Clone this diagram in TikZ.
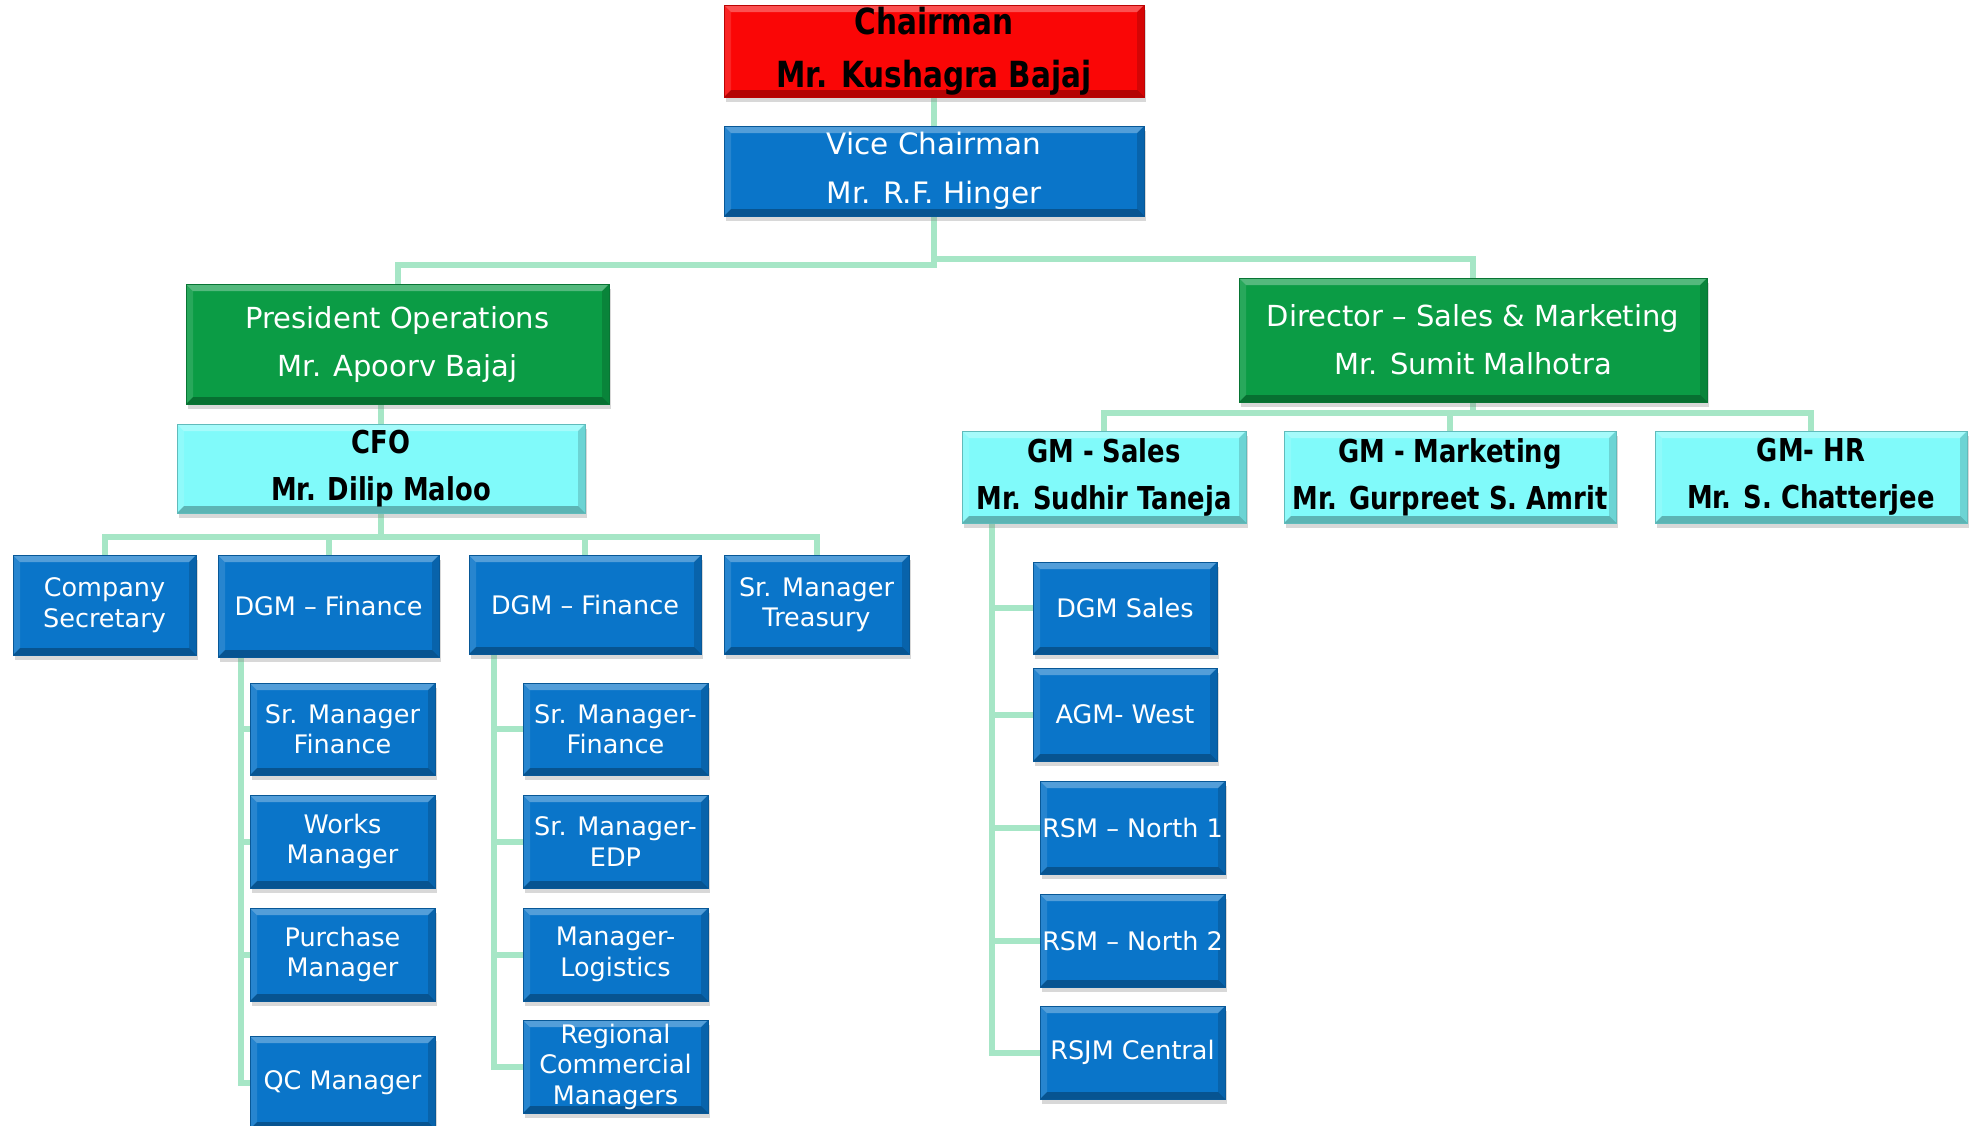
\documentclass[tikz,border=0pt]{standalone}
\usepackage{fontspec}
\setmainfont{DejaVu Sans}
\newfontfamily\bfnt[FakeStretch=0.82]{DejaVu Sans}
\usetikzlibrary{shadows}
\definecolor{cred}{HTML}{FA0606}
\definecolor{cblue}{HTML}{0A75C9}
\definecolor{cgreen}{HTML}{0B9C45}
\definecolor{ccyan}{HTML}{80FAFA}
\definecolor{cline}{HTML}{A6E6C6}
\pgfdeclarelayer{bg}
\pgfsetlayers{bg,main}
\tikzset{
  bevel/.style={path picture={
    \path (path picture bounding box.south west) coordinate (bsw)
          (path picture bounding box.north east) coordinate (bne);
    \fill[white,opacity=.30] (bsw |- bne) -- (bne) -- ([shift={(-7pt,-7pt)}]bne) -- ([shift={(7pt,-7pt)}]bsw |- bne) -- cycle;
    \fill[white,opacity=.12] (bsw |- bne) -- ([shift={(7pt,-7pt)}]bsw |- bne) -- ([shift={(7pt,7pt)}]bsw) -- (bsw) -- cycle;
    \fill[black,opacity=.15] (bne) -- (bne |- bsw) -- ([shift={(-7pt,7pt)}]bne |- bsw) -- ([shift={(-7pt,-7pt)}]bne) -- cycle;
    \fill[black,opacity=.28] (bsw) -- ([shift={(7pt,7pt)}]bsw) -- ([shift={(-7pt,7pt)}]bne |- bsw) -- (bne |- bsw) -- cycle;
  }},
  box/.style={rectangle, inner sep=0pt, align=center, fill=#1, draw=#1!75!black, line width=1pt,
    bevel, drop shadow={shadow xshift=2pt, shadow yshift=-5pt, opacity=.3}},
  redbox/.style={box=cred, text=black, font={\bfnt\bfseries\fontsize{36}{53}\selectfont}},
  bigblue/.style={box=cblue, text=white, font={\fontsize{29.5}{49}\selectfont}},
  greenbox/.style={box=cgreen, text=white, font={\fontsize{29}{48}\selectfont}},
  cyanbox/.style={box=ccyan, text=black, font={\bfnt\bfseries\fontsize{31.5}{47}\selectfont}},
  bluebox/.style={box=cblue, text=white, font={\fontsize{25.5}{30.5}\selectfont}},
  conn/.style={draw=cline, line width=6pt},
  sz/.style 2 args={minimum width=#1pt, minimum height=#2pt}
}
\begin{document}
\begin{tikzpicture}[x=1pt,y=-1pt]
\useasboundingbox (0,0) rectangle (1972,1125);
\clip (0,0) rectangle (1972,1125);

\node[redbox, sz={420}{92}] (ch) at (934,51) {Chairman\\Mr. Kushagra Bajaj};
\node[bigblue, sz={420}{90}] (vc) at (934,171) {Vice Chairman\\Mr. R.F. Hinger};
\node[greenbox, sz={423}{120}] (po) at (397.5,344) {President Operations\\Mr. Apoorv Bajaj};
\node[greenbox, sz={468}{124}] (dir) at (1473,340) {Director – Sales \& Marketing\\Mr. Sumit Malhotra};
\node[cyanbox, sz={408}{89}] (cfo) at (381,468.5) {CFO\\Mr. Dilip Maloo};

\node[bluebox, sz={183}{100}] (cs) at (104.5,605) {Company\\Secretary};
\node[bluebox, sz={221}{102}] (dgma) at (328.5,606) {DGM – Finance};
\node[bluebox, sz={232}{99}] (dgmb) at (585,604.5) {DGM – Finance};
\node[bluebox, sz={185}{99}] (smt) at (816.5,604.5) {Sr. Manager\\Treasury};

\node[bluebox, sz={185}{92}] (smfa) at (342.5,729) {Sr. Manager\\Finance};
\node[bluebox, sz={185}{93}] (wm) at (342.5,841.5) {Works\\Manager};
\node[bluebox, sz={185}{93}] (pm) at (342.5,954.5) {Purchase\\Manager};
\node[bluebox, sz={185}{93}] (qc) at (342.5,1082.5) {QC Manager};

\node[bluebox, sz={185}{92}] (smfb) at (615.5,729) {Sr. Manager-\\Finance};
\node[bluebox, sz={185}{93}] (edp) at (615.5,841.5) {Sr. Manager-\\EDP};
\node[bluebox, sz={185}{93}] (ml) at (615.5,954.5) {Manager-\\Logistics};
\node[bluebox, sz={185}{93}] (rcm) at (615.5,1066.5) {Regional\\Commercial\\Managers};

\node[cyanbox, sz={284}{92}] (gms) at (1104,477) {GM - Sales\\Mr. Sudhir Taneja};
\node[cyanbox, sz={332}{92}] (gmm) at (1450,477) {GM - Marketing\\Mr. Gurpreet S. Amrit};
\node[cyanbox, sz={312}{92}] (gmh) at (1811,477) {GM- HR\\Mr. S. Chatterjee};

\node[bluebox, sz={184}{92}] (dgms) at (1125,608) {DGM Sales};
\node[bluebox, sz={184}{93}] (agm) at (1125,714.5) {AGM- West};
\node[bluebox, sz={185}{93}] (rna) at (1132.5,827.5) {RSM – North 1};
\node[bluebox, sz={185}{93}] (rnb) at (1132.5,940.5) {RSM – North 2};
\node[bluebox, sz={185}{93}] (rsjm) at (1132.5,1052.5) {RSJM Central};

\begin{pgfonlayer}{bg}
\fill[white] (0,0) rectangle (1972,1125);
\draw[conn] (ch.south) -- (vc.north);
\draw[conn] (vc.south) -- ++(0,48) -| (po.north);
\draw[conn] (vc.south) -- ++(0,42) -| (dir.north);
\draw[conn] (cfo.north) -- (cfo.north |- po.south);
\foreach \c in {cs,dgma,dgmb,smt} \draw[conn] (cfo.south) -- ++(0,23) -| (\c.north);
\foreach \c in {gms,gmm,gmh} \draw[conn] (dir.south) -- ++(0,10) -| (\c.north);
\foreach \c in {smfa,wm,pm,qc} \draw[conn] ([xshift=23pt]dgma.south west) |- (\c.west);
\foreach \c in {smfb,edp,ml,rcm} \draw[conn] ([xshift=25pt]dgmb.south west) |- (\c.west);
\foreach \c in {dgms,agm,rna,rnb,rsjm} \draw[conn] ([xshift=30pt]gms.south west) |- (\c.west);
\end{pgfonlayer}
\end{tikzpicture}
\end{document}
